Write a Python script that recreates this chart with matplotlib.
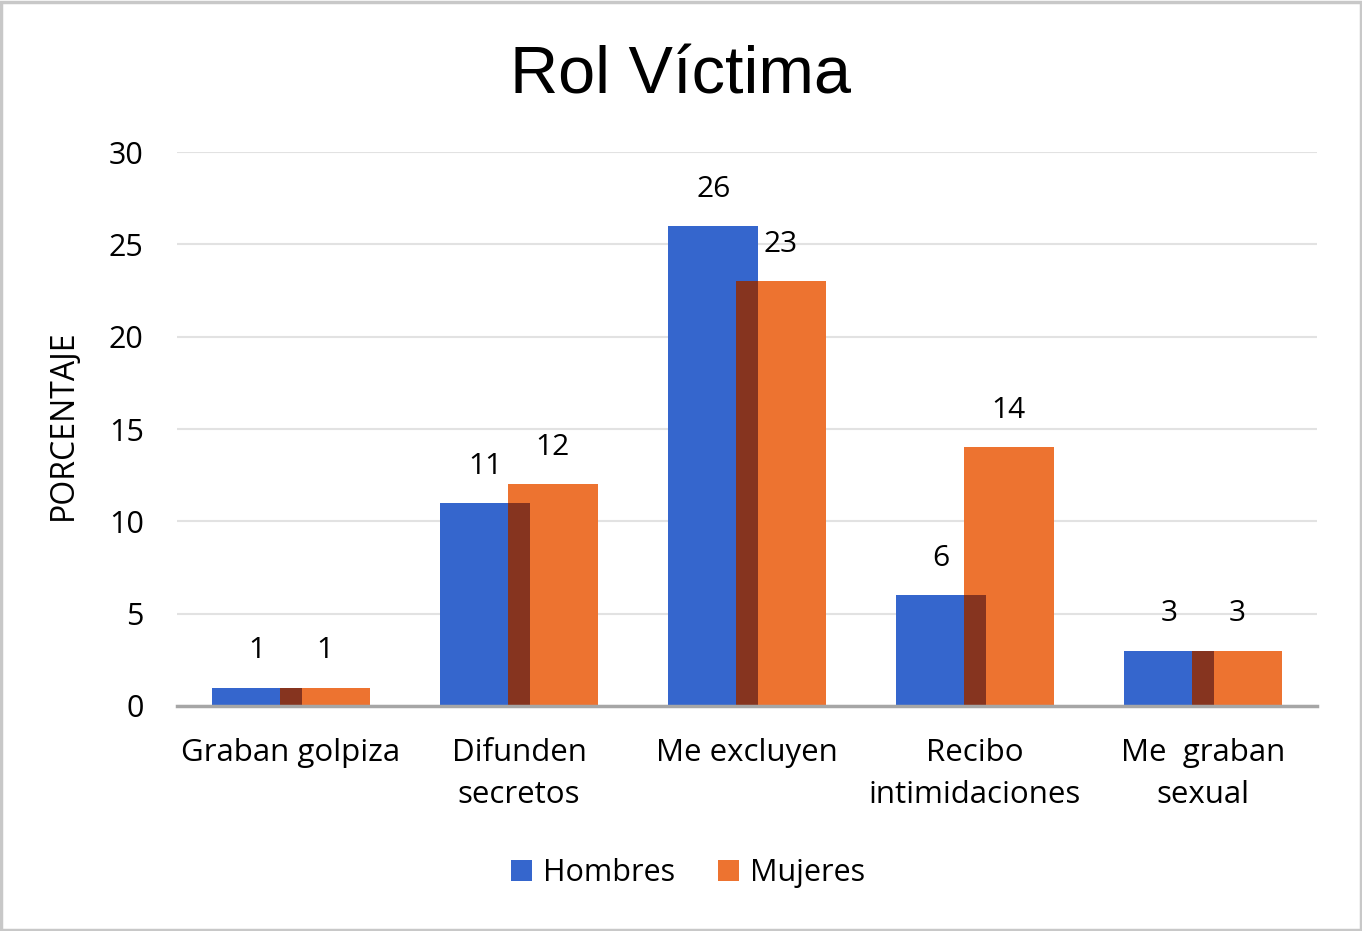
import matplotlib.pyplot as plt
import matplotlib.patches as mpatches
import numpy as np

categorias = ['Graban golpiza', 'Difunden\nsecretos', 'Me excluyen',
              'Recibo\nintimidaciones', 'Me  graban\nsexual']
hombres = [1, 11, 26, 6, 3]
mujeres = [1, 12, 23, 14, 3]

azul = '#3566cd'
naranja = '#ed7330'
cruce = '#86341f'

font = 'Open Sans'

fig = plt.figure(figsize=(13.62, 9.31), dpi=100)
fig.patches.append(mpatches.Rectangle((0.001, 0.001), 0.998, 0.997, transform=fig.transFigure,
                                      fill=False, edgecolor='#c8c8c8', lw=2.5))
ax = fig.add_axes([0.130, 0.2417, 0.837, 0.595])

x = np.arange(len(categorias))
w = 0.394
off = 0.148

ax.bar(x - off, hombres, w, color=azul, zorder=3, label='Hombres')
ax.bar(x + off, mujeres, w, color=naranja, zorder=3, label='Mujeres')

# zona donde se solapan las barras
izq = x + off - w / 2
der = x - off + w / 2
ax.bar(izq, np.minimum(hombres, mujeres), der - izq, align='edge', color=cruce, zorder=4)

for i in range(len(x)):
    ax.annotate(str(hombres[i]), (x[i] - off, hombres[i]), xytext=(0, 26.5),
                textcoords='offset points', ha='center', va='center', fontsize=21.5, family=font)
    ax.annotate(str(mujeres[i]), (x[i] + off, mujeres[i]), xytext=(0, 26.5),
                textcoords='offset points', ha='center', va='center', fontsize=21.5, family=font)

ax.set_xlim(-0.5, 4.5)
ax.set_ylim(0, 30)
ax.set_yticks([0, 5, 10, 15, 20, 25, 30])
ax.set_xticks(x)
ax.set_xticklabels(categorias, fontsize=22.5, family=font, linespacing=1.53)
for t in ax.get_yticklabels():
    t.set_fontsize(22)
    t.set_family(font)
ax.tick_params(axis='both', length=0)
ax.tick_params(axis='y', pad=24)
ax.tick_params(axis='x', pad=23)

for s in ['top', 'right', 'left']:
    ax.spines[s].set_visible(False)
ax.spines['bottom'].set_color('#a6a6a6')
ax.spines['bottom'].set_linewidth(2.5)
ax.spines['bottom'].set_zorder(5)
ax.grid(axis='y', color='#e2e2e2', lw=1.5, zorder=0)

ax.set_ylabel('PORCENTAJE', fontsize=23, family=font)
ax.yaxis.set_label_coords(-0.085, 0.507)

fig.text(0.5, 0.918, 'Rol Víctima', ha='center', va='center', fontsize=48, family='Liberation Sans')

leg = fig.legend(loc='center', bbox_to_anchor=(0.505, 0.062), ncol=2, frameon=False,
                 prop={'family': font, 'size': 22}, handlelength=0.7, handleheight=0.7,
                 handletextpad=0.35, columnspacing=1.4)

plt.savefig('out.png', dpi=100)
